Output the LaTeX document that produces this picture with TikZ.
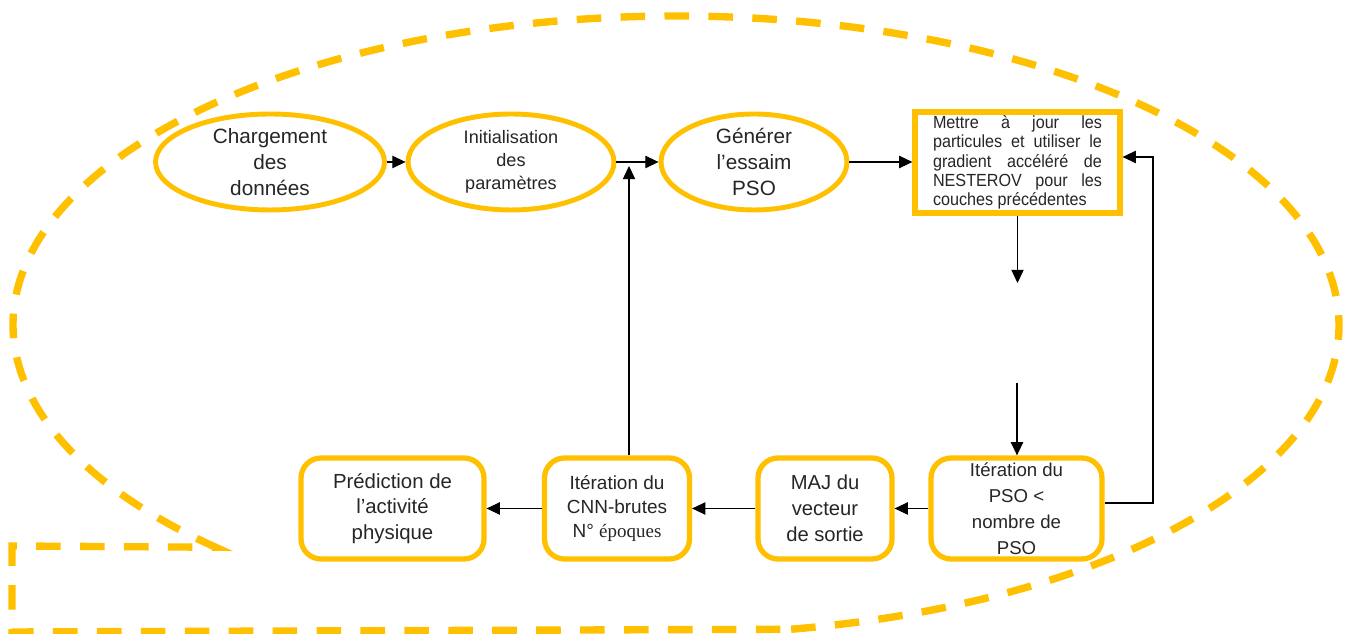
\documentclass[tikz,border=0pt]{standalone}
\usepackage{fontspec}
\setmainfont{Liberation Sans}
\newfontfamily\serifepoch{Liberation Serif}
\newfontfamily\narrowsans{Liberation Sans}[FakeStretch=0.92]
\usetikzlibrary{arrows.meta,shapes.geometric}
\definecolor{gold}{HTML}{FFC000}
\definecolor{ink}{HTML}{262626}

\tikzset{
  phase/.style={ellipse, draw=gold, line width=2.8pt, fill=white, minimum height=1.92cm, inner sep=0pt},
  phasetext/.style={align=center, text=ink},
  stepbox/.style={rectangle, rounded corners=0.4cm, draw=gold, line width=3pt, fill=white,
    minimum height=2.02cm, inner sep=0pt, align=center, text=ink},
  arr/.style={-{Triangle[length=7.5pt,width=7pt]}, line width=0.6pt},
  outline/.style={draw=gold, line width=4.2pt, dash pattern=on 14pt off 11pt}
}

\begin{document}
\begin{tikzpicture}[x=0.02cm,y=0.02cm]
\useasboundingbox (0,0) rectangle (1351,634);
% dashed callout behind the whole flow
\draw[outline] (676,309) ++(-80:13.26cm and 6.18cm)
  arc[start angle=-80,end angle=226,x radius=13.26cm,y radius=6.18cm]
  -- (12,88) -- (12,2) -- cycle;

% top row
\node[phase, minimum width=4.58cm,
  label={[phasetext,font=\fontsize{11.8}{14.7}\selectfont]center:{Chargement\\des\\données}}] (load) at (270,472) {};
\node[phase, minimum width=4.12cm,
  label={[phasetext,font=\fontsize{10.3}{13}\selectfont]center:{Initialisation\\des\\paramètres}}] (init) at (511,472) {};
\node[phase, minimum width=3.72cm,
  label={[phasetext,font=\fontsize{11.8}{14.7}\selectfont]center:{Générer\\l’essaim\\PSO}}] (swarm) at (754,472) {};
\node[rectangle, draw=gold, line width=3pt, fill=white, minimum width=4.1cm, minimum height=2.02cm,
  inner sep=0pt, text width=3.38cm, align=justify, text=ink,
  font=\narrowsans\fontsize{10}{11}\selectfont] (update) at (1017.5,471.5)
  {\hyphenpenalty=10000 Mettre à jour les\linebreak particules et utiliser le\linebreak gradient accéléré de\linebreak NESTEROV pour les\linebreak couches précédentes};

% bottom row
\node[stepbox, minimum width=3.42cm, font=\fontsize{10.6}{14.7}\selectfont] (pso) at (1016.5,125.5) {Itération du\\PSO <\\nombre de\\PSO};
\node[stepbox, minimum width=2.68cm, font=\fontsize{11.5}{14.7}\selectfont] (maj) at (825,125.5) {MAJ du\\vecteur\\de sortie};
\node[stepbox, minimum width=2.9cm, font=\fontsize{10.8}{13.6}\selectfont] (cnn) at (617,125.5) {Itération du\\CNN-brutes\\N° {\serifepoch époques}};
\node[stepbox, minimum width=3.66cm, font=\fontsize{11.6}{14.7}\selectfont] (pred) at (392.5,125.5) {Prédiction de\\l’activité\\physique};

% connectors
\coordinate (merge) at (629,468);
\coordinate (dropEnd) at (1017,351);
\coordinate (dropStart) at (1017,251);
\coordinate (back) at (1153,477);
\draw[arr] (load) -- (init);
\draw[arr] (init) -- (swarm);
\draw[arr] (swarm.east) -- (swarm.east -| update.west);
\draw[arr] (update.south) -- (update.south |- dropEnd);
\draw[arr] (dropStart) -- (dropStart |- pso.north);
\draw[arr] ([yshift=0.11cm]pso.east) -| (back) -- (back -| update.east);
\draw[arr] (pso) -- (maj);
\draw[arr] (maj) -- (cnn);
\draw[arr] (cnn) -- (pred);
\draw[arr] (cnn.north -| merge) -- (merge);
\end{tikzpicture}
\end{document}
